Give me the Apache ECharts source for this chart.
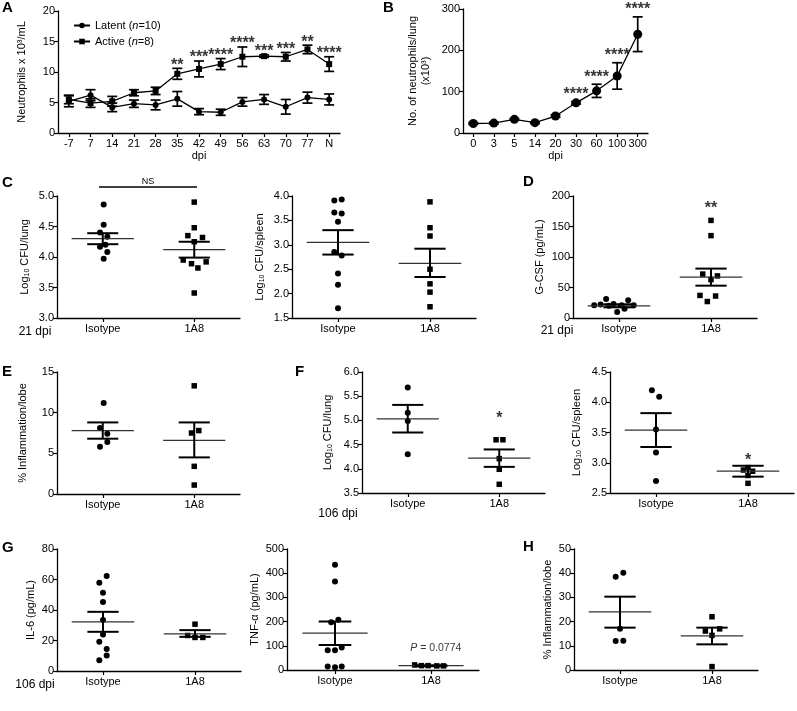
<!DOCTYPE html>
<html><head><meta charset="utf-8">
<script src="https://cdn.jsdelivr.net/npm/echarts@6/dist/echarts.min.js"></script>
<style>html,body{margin:0;padding:0;background:#fff}#c{width:797px;height:711px}</style>
</head><body><div id="c"></div>
<script>
// ---------------- DATA ----------------
// Panel A
const aCats = ['-7','7','14','21','28','35','42','49','56','63','70','77','N'];
const aLatentMean = [5.2,6.2,4.2,4.8,4.6,5.6,3.5,3.4,5.1,5.5,4.3,5.8,5.5];
const aLatentSem  = [0.9,0.9,0.7,0.6,0.8,1.2,0.5,0.5,0.7,0.8,1.2,0.9,0.9];
const aActiveMean = [5.5,4.9,5.2,6.6,6.9,9.7,10.5,11.3,12.5,12.6,12.5,13.7,11.3];
const aActiveSem  = [0.7,0.7,0.8,0.5,0.6,0.9,1.3,0.9,1.6,0.2,0.7,0.7,1.2];
const aStars = ['','','','','','**','***','****','****','***','***','**','****'];
// Panel B
const bCats = ['0','3','5','14','20','30','60','100','300'];
const bMean = [23,24,33,25,41,73,102,138,239];
const bSem  = [2,2,2,2,3,3,16,32,42];
const bStars = ['','','','','','****','****','****','****'];
// Groups
const groupLabels = ['Isotype','1A8'];
// Panel C (lung)
const cLungIsoVals = [4.86,4.53,4.40,4.33,4.20,4.17,4.08,3.97];
const cLungIsoJit  = [0.01,0.01,-0.03,0.05,0.03,-0.03,0.05,0.01];
const cLungIsoStat = [4.30,4.21,4.39];
const cLung1A8Vals = [4.90,4.48,4.35,4.32,4.25,3.95,3.89,3.92,3.82,3.41];
const cLung1A8Jit  = [0,0,-0.07,0.09,0,-0.12,-0.03,0.13,0.04,0];
const cLung1A8Stat = [4.12,3.99,4.25];
// Panel C (spleen)
const cSplIsoVals = [3.91,3.93,3.66,3.64,3.47,2.85,2.78,2.41,2.18,1.70];
const cSplIsoJit  = [-0.04,0.04,-0.04,0.04,0,-0.04,0.04,0,0,0];
const cSplIsoStat = [3.05,2.80,3.30];
const cSpl1A8Vals = [3.88,3.35,3.18,2.50,2.20,2.03,1.73];
const cSpl1A8Jit  = [0,0,0,0,0,0,0];
const cSpl1A8Stat = [2.62,2.34,2.92];
// Panel D
const dIsoVals = [21,22,31,20,23,10,21,15,29,21];
const dIsoJit  = [-0.27,-0.2,-0.14,-0.11,-0.06,-0.02,0.03,0.06,0.1,0.16];
const dIsoStat = [20,17.5,22.5];
const d1A8Vals = [160,135,72,63,69,37,27,36];
const d1A8Jit  = [0,0,-0.09,0,0.07,-0.12,-0.04,0.05];
const d1A8Stat = [67,53,81];
// Panel E
const eIsoVals = [11.2,8.1,7.4,6.4,5.8];
const eIsoJit  = [0.01,-0.03,0.05,0.05,-0.03];
const eIsoStat = [7.8,6.8,8.8];
const e1A8Vals = [13.3,7.5,7.8,3.4,1.1];
const e1A8Jit  = [0,-0.03,0.05,0,0];
const e1A8Stat = [6.6,4.5,8.8];
// Panel F (lung)
const fLungIsoVals = [5.68,5.16,4.99,4.30];
const fLungIsoJit  = [0,0,0,0];
const fLungIsoStat = [5.03,4.75,5.32];
const fLung1A8Vals = [4.60,4.60,4.21,3.99,3.68];
const fLung1A8Jit  = [-0.035,0.04,0,0,0];
const fLung1A8Stat = [4.22,4.04,4.40];
// Panel F (spleen)
const fSplIsoVals = [4.20,4.09,3.55,3.17,2.70];
const fSplIsoJit  = [-0.045,0.035,0,0,0];
const fSplIsoStat = [3.54,3.26,3.82];
const fSpl1A8Vals = [2.92,2.88,2.86,2.79,2.66];
const fSpl1A8Jit  = [0,-0.05,0.05,0,0];
const fSpl1A8Stat = [2.86,2.77,2.95];
// Panel G (IL-6)
const gIl6IsoVals = [62.3,57.9,51.3,45.2,33.4,24.0,19.1,14.5,10.1,7.0];
const gIl6IsoJit  = [0.04,-0.04,0,0,0,0,-0.04,0.04,0.04,-0.04];
const gIl6IsoStat = [32.2,25.7,38.8];
const gIl61A8Vals = [30.7,23.3,22,22];
const gIl61A8Jit  = [0,-0.08,0,0.085];
const gIl61A8Stat = [24.3,22.4,26.8];
// Panel G (TNF)
const gTnfIsoVals = [435,366,197,208,82,82,93,14,11,14];
const gTnfIsoJit  = [0,0,-0.04,0.035,-0.076,0,0.07,-0.076,0,0.07];
const gTnfIsoStat = [152,103,200];
const gTnf1A8Vals = [21,18,18,17,17];
const gTnf1A8Jit  = [-0.17,-0.1,-0.03,0.06,0.13];
const gTnf1A8Stat = [18,16,20];
// Panel H
const hIsoVals = [38.5,40.2,17.0,12.0,12.1];
const hIsoJit  = [-0.047,0.036,0,-0.047,0.036];
const hIsoStat = [24,17.5,30.3];
const h1A8Vals = [22.0,16.1,17.0,14.3,1.4];
const h1A8Jit  = [0,-0.072,0.083,0,0];
const h1A8Stat = [14.1,10.6,17.5];

// ---------------- BUILD ----------------
const FONT = 'Liberation Sans, Arial, Helvetica, sans-serif';
const grids = [], xAxes = [], yAxes = [], series = [];
const nameStyle = {color:'#000', fontSize:11, fontFamily:FONT, lineHeight:13,
  rich:{a:{fontSize:11, fontFamily:FONT, lineHeight:13, color:'#000'},
        s:{fontSize:7, fontFamily:FONT, lineHeight:13, verticalAlign:'bottom', color:'#000'}}};
const axLine = {show:true, onZero:false, lineStyle:{color:'#000', width:1.3}};
const axTick = {show:true, length:4, lineStyle:{color:'#000', width:1.2}};
const lblStyle = {color:'#000', fontSize:11, fontFamily:FONT};

function yAxisCfg(gi, c){
  return {gridIndex:gi, type:'value', min:c.min, max:c.max, interval:c.interval,
    name:c.name, nameLocation:'middle', nameGap:c.gap, nameRotate:90, nameTextStyle:nameStyle,
    axisLine:axLine, axisTick:axTick,
    axisLabel:Object.assign({margin:3}, lblStyle, c.dec!=null ? {formatter:v=>v.toFixed(c.dec)} : {}),
    splitLine:{show:false}};
}
function errRender(params, api){
  const i = api.value(0), lo = api.value(1), hi = api.value(2);
  const p1 = api.coord([i, lo]), p2 = api.coord([i, hi]);
  const c = 5, st = {stroke:'#000', lineWidth:1.7};
  return {type:'group', children:[
    {type:'line', shape:{x1:p1[0],y1:p1[1],x2:p2[0],y2:p2[1]}, style:st},
    {type:'line', shape:{x1:p1[0]-c,y1:p1[1],x2:p1[0]+c,y2:p1[1]}, style:st},
    {type:'line', shape:{x1:p2[0]-c,y1:p2[1],x2:p2[0]+c,y2:p2[1]}, style:st}
  ]};
}
function meanSemRender(params, api){
  const x = api.value(0), m = api.value(1), lo = api.value(2), hi = api.value(3);
  const a = api.coord([x-0.34, m]), b = api.coord([x+0.34, m]);
  const l1 = api.coord([x-0.17, lo]), l2 = api.coord([x+0.17, lo]);
  const h1 = api.coord([x-0.17, hi]), h2 = api.coord([x+0.17, hi]);
  const sem = {stroke:'#000', lineWidth:2};
  return {type:'group', children:[
    {type:'line', shape:{x1:a[0],y1:a[1],x2:b[0],y2:b[1]}, style:{stroke:'#333', lineWidth:1.3}},
    {type:'line', shape:{x1:l1[0],y1:l1[1],x2:l2[0],y2:l2[1]}, style:sem},
    {type:'line', shape:{x1:h1[0],y1:h1[1],x2:h2[0],y2:h2[1]}, style:sem},
    {type:'line', shape:{x1:(l1[0]+l2[0])/2,y1:l1[1],x2:(h1[0]+h2[0])/2,y2:h1[1]}, style:sem}
  ]};
}
function labelSeries(gi, pts, texts, pos, fontSize, extra){
  series.push({type:'scatter', xAxisIndex:gi, yAxisIndex:gi, symbolSize:0, silent:true, z:5,
    data:pts, label:Object.assign({show:true, position:pos, distance:0, color:'#000', fontSize:fontSize, fontFamily:FONT,
      formatter:p=>texts[p.dataIndex]}, extra||{})});
}

// Panel A
grids.push({left:58, top:11, width:282, height:122});
xAxes.push({gridIndex:0, type:'category', data:aCats, boundaryGap:true,
  name:'dpi', nameLocation:'middle', nameGap:17, nameTextStyle:{color:'#000', fontSize:11, fontFamily:FONT},
  axisLine:axLine, axisTick:Object.assign({alignWithLabel:true}, axTick),
  axisLabel:Object.assign({margin:5, interval:0}, lblStyle)});
yAxes.push(yAxisCfg(0, {min:0, max:20, interval:5, name:'Neutrophils x 10³/mL', gap:30}));
series.push({type:'custom', xAxisIndex:0, yAxisIndex:0, renderItem:errRender, encode:{x:0, y:[1,2]}, z:2,
  data:aLatentMean.map((m,i)=>[i, m-aLatentSem[i], m+aLatentSem[i]])});
series.push({type:'custom', xAxisIndex:0, yAxisIndex:0, renderItem:errRender, encode:{x:0, y:[1,2]}, z:2,
  data:aActiveMean.map((m,i)=>[i, m-aActiveSem[i], m+aActiveSem[i]])});
series.push({type:'line', name:'Latent', xAxisIndex:0, yAxisIndex:0, data:aLatentMean, symbol:'circle', symbolSize:6,
  itemStyle:{color:'#000'}, lineStyle:{color:'#000', width:1.3}, z:3});
series.push({type:'line', name:'Active', xAxisIndex:0, yAxisIndex:0, data:aActiveMean, symbol:'rect', symbolSize:6,
  itemStyle:{color:'#000'}, lineStyle:{color:'#000', width:1.3}, z:3});
labelSeries(0, aActiveMean.map((m,i)=>[i, m+aActiveSem[i]]), aStars, 'top', 16, {fontWeight:'bold', distance:-5});

// Panel B
grids.push({left:463, top:9, width:185, height:124});
xAxes.push({gridIndex:1, type:'category', data:bCats, boundaryGap:true,
  name:'dpi', nameLocation:'middle', nameGap:17, nameTextStyle:{color:'#000', fontSize:11, fontFamily:FONT},
  axisLine:axLine, axisTick:Object.assign({alignWithLabel:true}, axTick),
  axisLabel:Object.assign({margin:5, interval:0}, lblStyle)});
yAxes.push(yAxisCfg(1, {min:0, max:300, interval:100, name:'No. of neutrophils/lung\n(x10³)', gap:31}));
series.push({type:'custom', xAxisIndex:1, yAxisIndex:1, renderItem:errRender, encode:{x:0, y:[1,2]}, z:2,
  data:bMean.map((m,i)=>[i, m-bSem[i], m+bSem[i]])});
series.push({type:'line', name:'B', xAxisIndex:1, yAxisIndex:1, data:bMean, symbol:'circle', symbolSize:9,
  itemStyle:{color:'#000'}, lineStyle:{color:'#000', width:1.3}, z:3});
labelSeries(1, bMean.map((m,i)=>[i, m+bSem[i]]), bStars, 'top', 16, {fontWeight:'bold', distance:-1});

// Scatter panels
function scatterPanel(rect, yc, iso, isoJ, isoS, a8, a8J, a8S){
  const gi = grids.length;
  grids.push(rect);
  xAxes.push({gridIndex:gi, type:'value', min:-0.5, max:1.5,
    axisLine:axLine, axisTick:Object.assign({customValues:[0,1]}, axTick),
    axisLabel:Object.assign({margin:5, customValues:[0,1], formatter:v=>groupLabels[Math.round(v)]}, lblStyle),
    splitLine:{show:false}});
  yAxes.push(yAxisCfg(gi, yc));
  series.push({type:'scatter', xAxisIndex:gi, yAxisIndex:gi, symbol:'circle', symbolSize:6, itemStyle:{color:'#000', opacity:1}, z:3,
    data:iso.map((v,i)=>[0+isoJ[i], v])});
  series.push({type:'scatter', xAxisIndex:gi, yAxisIndex:gi, symbol:'rect', symbolSize:5.5, itemStyle:{color:'#000', opacity:1}, z:3,
    data:a8.map((v,i)=>[1+a8J[i], v])});
  series.push({type:'custom', xAxisIndex:gi, yAxisIndex:gi, renderItem:meanSemRender, encode:{x:0, y:[1,2,3]}, z:4, clip:false,
    data:[[0].concat(isoS), [1].concat(a8S)]});
  return gi;
}
const LOG = s => '{a|Log}{s|10}{a| CFU/' + s + '}';
const gC1 = scatterPanel({left:57, top:196, width:183, height:122}, {min:3.0, max:5.0, interval:0.5, dec:1, name:LOG('lung'), gap:26},
  cLungIsoVals, cLungIsoJit, cLungIsoStat, cLung1A8Vals, cLung1A8Jit, cLung1A8Stat);
const gC2 = scatterPanel({left:292, top:196, width:184, height:122}, {min:1.5, max:4.0, interval:0.5, dec:1, name:LOG('spleen'), gap:26},
  cSplIsoVals, cSplIsoJit, cSplIsoStat, cSpl1A8Vals, cSpl1A8Jit, cSpl1A8Stat);
const gD = scatterPanel({left:573, top:196, width:184, height:122}, {min:0, max:200, interval:50, name:'G-CSF (pg/mL)', gap:27},
  dIsoVals, dIsoJit, dIsoStat, d1A8Vals, d1A8Jit, d1A8Stat);
const gE = scatterPanel({left:57, top:372, width:183, height:122}, {min:0, max:15, interval:5, name:'% Inflammation/lobe', gap:28},
  eIsoVals, eIsoJit, eIsoStat, e1A8Vals, e1A8Jit, e1A8Stat);
const gF1 = scatterPanel({left:362, top:372, width:183, height:121}, {min:3.5, max:6.0, interval:0.5, dec:1, name:LOG('lung'), gap:28},
  fLungIsoVals, fLungIsoJit, fLungIsoStat, fLung1A8Vals, fLung1A8Jit, fLung1A8Stat);
const gF2 = scatterPanel({left:610, top:372, width:184, height:121}, {min:2.5, max:4.5, interval:0.5, dec:1, name:LOG('spleen'), gap:27},
  fSplIsoVals, fSplIsoJit, fSplIsoStat, fSpl1A8Vals, fSpl1A8Jit, fSpl1A8Stat);
const gG1 = scatterPanel({left:57, top:549, width:184, height:122}, {min:0, max:80, interval:20, name:'IL-6 (pg/mL)', gap:19},
  gIl6IsoVals, gIl6IsoJit, gIl6IsoStat, gIl61A8Vals, gIl61A8Jit, gIl61A8Stat);
const gG2 = scatterPanel({left:287, top:549, width:192, height:121}, {min:0, max:500, interval:100, name:'TNF-α (pg/mL)', gap:21},
  gTnfIsoVals, gTnfIsoJit, gTnfIsoStat, gTnf1A8Vals, gTnf1A8Jit, gTnf1A8Stat);
const gH = scatterPanel({left:574, top:549, width:184, height:121}, {min:0, max:50, interval:10, name:'% Inflammation/lobe', gap:18},
  hIsoVals, hIsoJit, hIsoStat, h1A8Vals, h1A8Jit, h1A8Stat);

// Significance annotations (data coordinates)
labelSeries(gD, [[1, 185]], ['**'], 'inside', 16, {fontWeight:'bold', offset:[0,3]});
labelSeries(gF1, [[1, 5.09]], ['*'], 'inside', 16, {fontWeight:'bold', offset:[0,3]});
labelSeries(gF2, [[1, 3.08]], ['*'], 'inside', 16, {fontWeight:'bold', offset:[0,3]});
labelSeries(gG2, [[1.05, 91]], ['{i|P} = 0.0774'], 'inside', 10.5, {rich:{i:{fontStyle:'italic', fontSize:10.5, fontFamily:FONT, color:'#000'}}});

// Static text
const letters = [['A',2,0],['B',383,0],['C',2,175],['D',523,174],['E',2,364],['F',295,364],['G',2,540],['H',523,539]];
const graphic = letters.map(l => ({type:'text', left:l[1], top:l[2],
  style:{text:l[0], font:'bold 15px ' + FONT, fill:'#000'}}));
[['21 dpi',35,332],['21 dpi',557,331],['106 dpi',338,514],['106 dpi',35,685]].forEach(t => graphic.push({type:'text', x:t[1], y:t[2],
  style:{text:t[0], fontSize:12, fontFamily:FONT, fill:'#000', align:'center', verticalAlign:'middle'}}));
graphic.push({type:'line', shape:{x1:99, y1:187, x2:197, y2:187}, style:{stroke:'#000', lineWidth:1.5}});
graphic.push({type:'text', x:148, y:182, style:{text:'NS', fontSize:9, fontFamily:FONT, fill:'#000', align:'center', verticalAlign:'middle'}});

const chart = echarts.init(document.getElementById('c'), null, {renderer:'canvas'});
chart.setOption({
  animation:false,
  textStyle:{fontFamily:FONT},
  grid:grids, xAxis:xAxes, yAxis:yAxes, series:series, graphic:graphic,
  legend:{data:['Latent','Active'], left:68, top:15, orient:'vertical', itemWidth:16, itemHeight:7, itemGap:5,
    textStyle:{color:'#000', fontSize:11, fontFamily:FONT, rich:{i:{fontStyle:'italic', fontSize:11, fontFamily:FONT, color:'#000'}}},
    formatter:n => n==='Latent' ? 'Latent ({i|n}=10)' : 'Active ({i|n}=8)'}
});
</script></body></html>
